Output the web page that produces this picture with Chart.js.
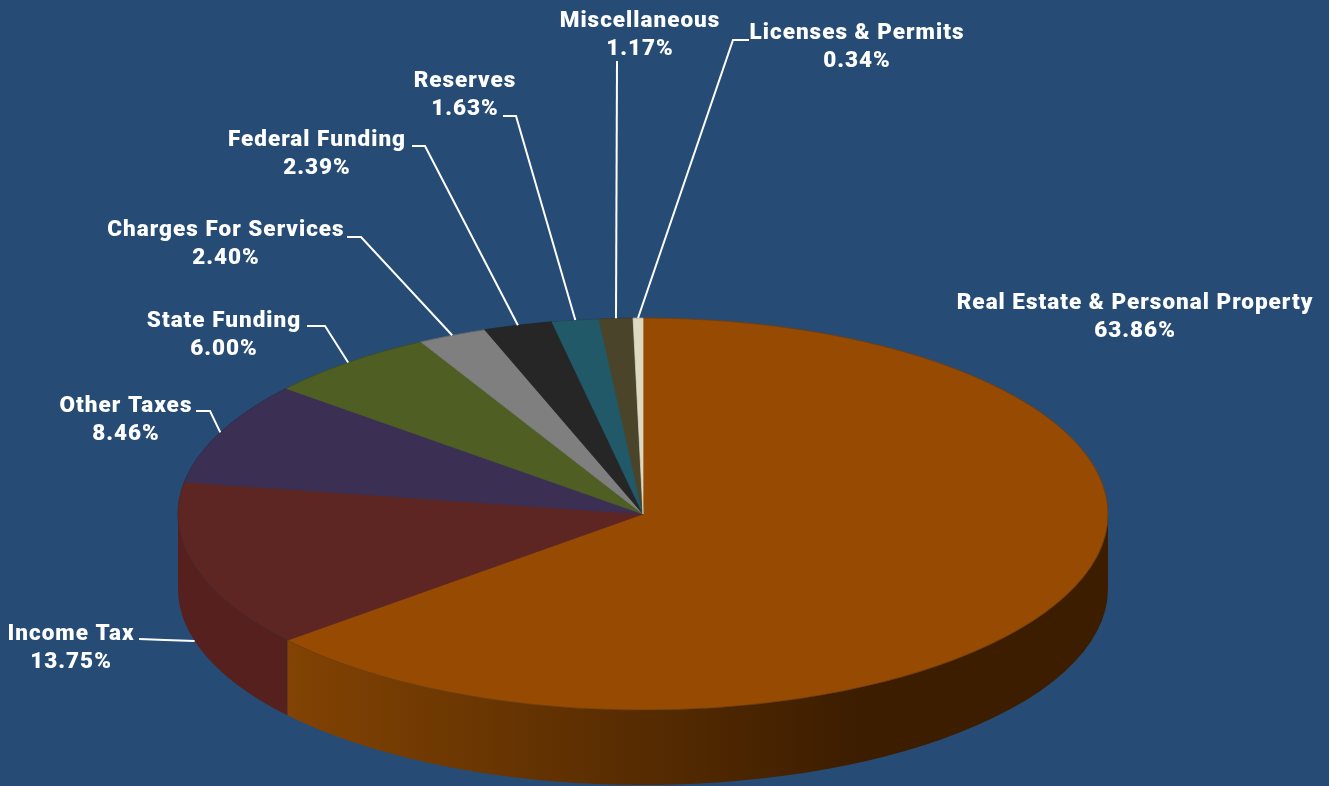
<!DOCTYPE html>
<html lang="en">
<head>
    <meta charset="UTF-8">
    <title>Revenue Sources</title>
    <script src="https://cdn.jsdelivr.net/npm/chart.js"></script>
    <style>
        html, body { margin: 0; padding: 0; background: #264c75; overflow: hidden; }
        #chart-container { width: 1329px; height: 786px; }
    </style>
</head>
<body>
    <div id="chart-container">
        <canvas id="revenueChart"></canvas>
    </div>

    <script>
        const categories = ['Real Estate & Personal Property', 'Income Tax', 'Other Taxes', 'State Funding',
            'Charges For Services', 'Federal Funding', 'Reserves', 'Miscellaneous', 'Licenses & Permits'];
        const shares = [63.86, 13.75, 8.46, 6.00, 2.40, 2.39, 1.63, 1.17, 0.34];
        const sliceColors = ['#964a02', '#5e2623', '#3b2f54', '#4f5f24', '#7f7f7f', '#262626', '#215968', '#4a452a', '#ddd9c3'];

        // Where each label sits (centre x, first line y) and where its leader line bends
        const labelSpots = [[1135, 303], [71, 634], [126, 406], [224, 321], [226, 230], [317, 140], [465, 81], [640, 21], [857, 33]];
        const leaderBends = [null, [[139, 639], [165, 640]], [[196, 411], [210, 411]], [[307, 326], [325, 326]],
            [[347, 237], [361, 237]], [[412, 146], [425, 146]], [[503, 116], [516, 116]], [[617, 61]], [[749, 40], [733, 40]]];

        const squash = 0.4215;   // vertical flattening of the disc
        const depth = 75;        // height of the side wall

        // Fakes the 3D look: flattens the library's arcs and puts a wall under them
        const pie3d = {
            id: 'pie3d',
            beforeDatasetsDraw(chart) {
                const ctx = chart.ctx;
                const arcs = chart.getDatasetMeta(0).data;
                const { x, y, outerRadius } = arcs[0];
                const ry = outerRadius * squash;

                ctx.save();
                arcs.forEach((arc, i) => {
                    // only the front half of the rim can be seen
                    const from = Math.max(arc.startAngle, 0);
                    const to = Math.min(arc.endAngle, Math.PI);
                    if (to <= from) return;
                    if (i === 0) {
                        const wall = ctx.createLinearGradient(287, 0, 860, 0);
                        wall.addColorStop(0, '#824303');
                        wall.addColorStop(1, '#3c1d00');
                        ctx.fillStyle = wall;
                    } else {
                        ctx.fillStyle = '#55201e';
                    }
                    ctx.beginPath();
                    ctx.ellipse(x, y, outerRadius, ry, 0, from, to);
                    ctx.ellipse(x, y + depth, outerRadius, ry, 0, to, from, true);
                    ctx.closePath();
                    ctx.fill();
                });
                ctx.restore();

                ctx.save();
                ctx.translate(x, y);
                ctx.scale(1, squash);
                ctx.translate(-x, -y);
            },
            afterDatasetsDraw(chart) {
                const ctx = chart.ctx;
                ctx.restore();

                const arcs = chart.getDatasetMeta(0).data;
                const { x, y, outerRadius } = arcs[0];
                const ry = outerRadius * squash;

                // thin dark edge round the disc
                ctx.save();
                ctx.strokeStyle = 'rgba(30, 35, 45, 0.25)';
                ctx.lineWidth = 1;
                ctx.beginPath();
                ctx.ellipse(x, y, outerRadius, ry, 0, 0, Math.PI * 2);
                ctx.stroke();

                // leader lines end on the rim at the middle of each slice
                ctx.strokeStyle = '#ffffff';
                ctx.lineWidth = 2;
                arcs.forEach((arc, i) => {
                    if (!leaderBends[i]) return;
                    const mid = (arc.startAngle + arc.endAngle) / 2;
                    let endY = y + Math.sin(mid) * ry;
                    if (Math.sin(mid) > 0) endY += depth;
                    ctx.beginPath();
                    leaderBends[i].forEach((p, k) => k ? ctx.lineTo(p[0], p[1]) : ctx.moveTo(p[0], p[1]));
                    ctx.lineTo(x + Math.cos(mid) * outerRadius, endY);
                    ctx.stroke();
                });

                // labels
                ctx.fillStyle = '#ffffff';
                ctx.textAlign = 'center';
                ctx.textBaseline = 'middle';
                ctx.font = '900 22.5px Roboto';
                ctx.letterSpacing = '1px';
                categories.forEach((name, i) => {
                    const [lx, ly] = labelSpots[i];
                    ctx.fillText(name, lx, ly);
                    ctx.fillText(shares[i].toFixed(2) + '%', lx, ly + 28);
                });
                ctx.restore();
            }
        };

        new Chart(document.getElementById('revenueChart'), {
            type: 'pie',
            data: {
                labels: categories,
                datasets: [{
                    data: shares,
                    backgroundColor: sliceColors,
                    borderColor: sliceColors,
                    borderWidth: 1,
                    radius: 465,
                    clip: false
                }]
            },
            options: {
                responsive: true,
                maintainAspectRatio: false,
                devicePixelRatio: 1,
                animation: false,
                // puts the pie centre at 643, 514
                layout: { padding: { top: 242, right: 43 } },
                plugins: {
                    legend: { display: false },
                    tooltip: { enabled: false }
                }
            },
            plugins: [pie3d]
        });
    </script>
</body>
</html>
